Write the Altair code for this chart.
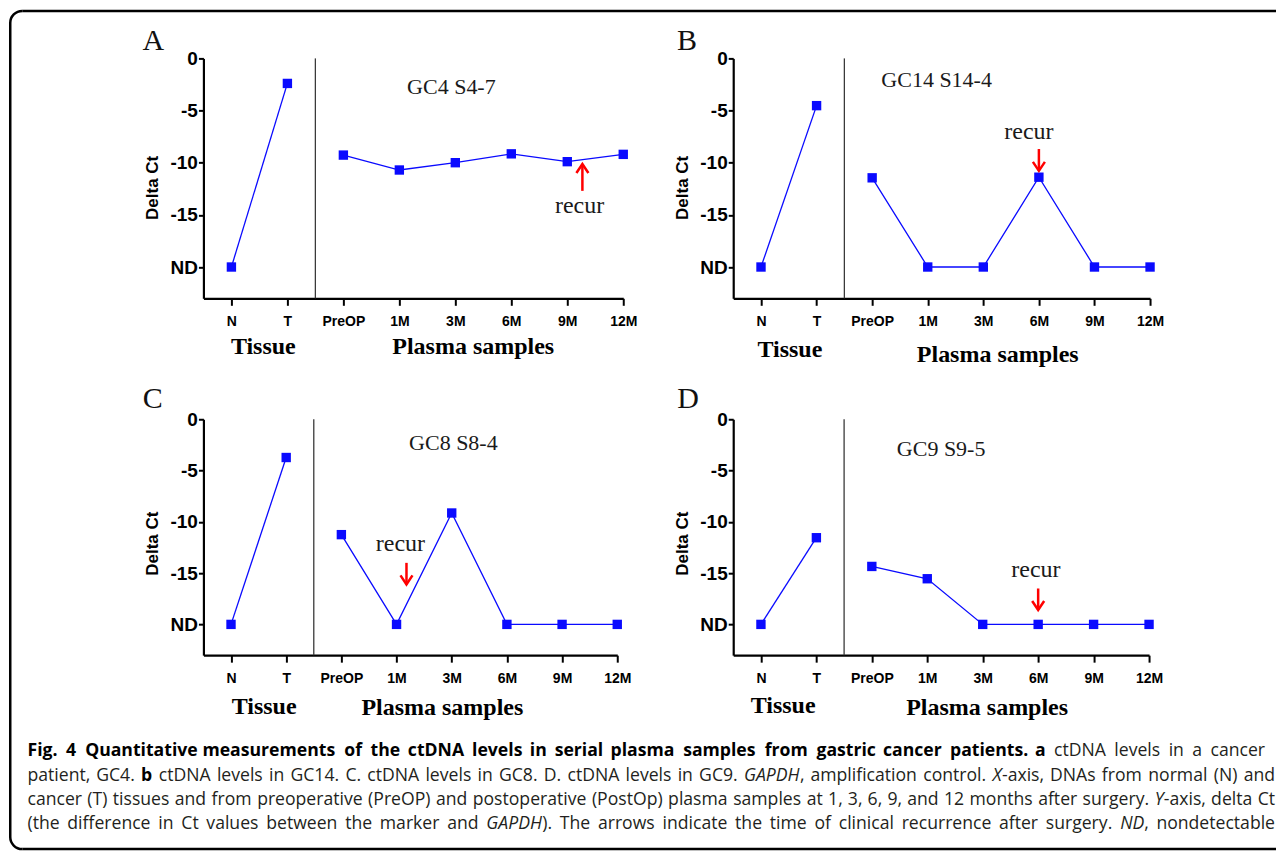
import json
import math
import altair as alt
import pandas as pd

# ---------------- data ----------------
CATEGORIES = ["N", "T", "PreOP", "1M", "3M", "6M", "9M", "12M"]
SAMPLE_GROUP = ["Tissue", "Tissue", "Plasma", "Plasma", "Plasma", "Plasma", "Plasma", "Plasma"]
ND_VALUE = -20  # "ND" (nondetectable) drawn at -20

DELTA_CT_A = [-20, -2.4, -9.27, -10.7, -10.0, -9.15, -9.9, -9.2]
DELTA_CT_B = [-20, -4.53, -11.45, -20, -20, -11.39, -20, -20]
DELTA_CT_C = [-20, -3.73, -11.25, -20, -9.14, -20, -20, -20]
DELTA_CT_D = [-20, -11.55, -14.35, -15.55, -20, -20, -20, -20]
ALL_VALUES = [DELTA_CT_A, DELTA_CT_B, DELTA_CT_C, DELTA_CT_D]

PANEL_LETTERS = ["A", "B", "C", "D"]
SAMPLE_IDS = ["GC4 S4-7", "GC14 S14-4", "GC8 S8-4", "GC9 S9-5"]
Y_TICKS = [0, -5, -10, -15, -20]

# recurrence arrows (x in category-index units, y in delta Ct units)
RECUR_X = [6.27, 5.0, 3.18, 5.0]
RECUR_TAIL = [-12.7, -8.69, -14.0, -16.5]
RECUR_TIP = [-10.13, -10.78, -16.1, -18.6]

CAPTION = [
    [("Fig. 4 Quantitative measurements of the ctDNA levels in serial plasma samples from gastric cancer patients. a", "bold"),
     (" ctDNA levels in a cancer", "normal")],
    [("patient, GC4. ", "normal"), ("b", "bold"),
     (" ctDNA levels in GC14. C. ctDNA levels in GC8. D. ctDNA levels in GC9. ", "normal"),
     ("GAPDH", "italic"), (", amplification control. ", "normal"), ("X", "italic"),
     ("-axis, DNAs from normal (N) and", "normal")],
    [("cancer (T) tissues and from preoperative (PreOP) and postoperative (PostOp) plasma samples at 1, 3, 6, 9, and 12 months after surgery. ", "normal"),
     ("Y", "italic"), ("-axis, delta Ct", "normal")],
    [("(the difference in Ct values between the marker and ", "normal"), ("GAPDH", "italic"),
     ("). The arrows indicate the time of clinical recurrence after surgery. ", "normal"),
     ("ND", "italic"), (", nondetectable", "normal")],
]

# ---------------- layout / style ----------------
BLUE = "#0a0aff"
RED = "#ff0000"
SERIF = "Liberation Serif"
SANS = "Liberation Sans"
CAP_FONT = "Open Sans"
PANEL_W = [420, 417, 414, 416]
ROW_H = [240, 236]
TITLE_Y = [129, 124]
HSPACE = 110
VSPACE = 121
CHEVRON = "M-0.6,-0.9L0,0L0.6,-0.9"

# per-panel annotation positions (x in category units, y in delta Ct units)
LAYOUT = [
    dict(letter=(-1.59, 0.77), sample=(3.93, -3.40), recur=(6.22, -14.8), tissue=(0.57, -28.3), plasma=(4.32, -28.3)),
    dict(letter=(-1.51, 0.77), sample=(3.16, -2.76), recur=(4.82, -7.73), tissue=(0.52, -28.6), plasma=(4.26, -29.1)),
    dict(letter=(-1.60, 1.10), sample=(4.03, -3.02), recur=(3.07, -12.87), tissue=(0.60, -28.75), plasma=(3.83, -28.8)),
    dict(letter=(-1.51, 1.10), sample=(3.25, -3.54), recur=(4.96, -15.4), tissue=(0.40, -28.6), plasma=(4.08, -28.8)),
]

LABEL_EXPR = json.dumps(CATEGORIES) + "[datum.value]"


def make_panel(i, row):
    vals = ALL_VALUES[i]
    lay = LAYOUT[i]
    d = pd.DataFrame({"pos": list(range(len(CATEGORIES))), "value": vals, "group": SAMPLE_GROUP})
    X = alt.X("pos:Q", scale=alt.Scale(domain=[-0.5, 7], nice=False, zero=False),
              axis=alt.Axis(values=list(range(len(CATEGORIES))), labelExpr=LABEL_EXPR, title=None))
    Y = alt.Y("value:Q", scale=alt.Scale(domain=[-23, 0], nice=False, zero=False),
              axis=alt.Axis(values=Y_TICKS,
                            labelExpr=f"datum.value == {ND_VALUE} ? 'ND' : toString(datum.value)",
                            title="Delta Ct", titleY=TITLE_Y[row]))

    def txt(pos, value, label, **kw):
        return alt.Chart(pd.DataFrame({"pos": [pos], "value": [value], "label": [label]})).mark_text(
            **kw).encode(x=X, y=Y, text="label:N")

    sep = alt.Chart(pd.DataFrame({"pos": [1.5], "value": [0.0], "value2": [-23.0]})).mark_rule(
        color="#3a3a3a", strokeWidth=1.3).encode(x=X, y=Y, y2="value2:Q")
    base = alt.Chart(d)
    line = base.mark_line(color=BLUE, strokeWidth=1.3).encode(x=X, y=Y, detail="group:N")
    pts = base.mark_square(size=88, color=BLUE, opacity=1).encode(x=X, y=Y)
    shaft = alt.Chart(pd.DataFrame({"pos": [RECUR_X[i]], "value": [RECUR_TAIL[i]], "value2": [RECUR_TIP[i]]})).mark_rule(
        color=RED, strokeWidth=2.5).encode(x=X, y=Y, y2="value2:Q")
    up = RECUR_TIP[i] > RECUR_TAIL[i]
    head = alt.Chart(pd.DataFrame({"pos": [RECUR_X[i]], "value": [RECUR_TIP[i]]})).mark_point(
        shape=CHEVRON, filled=False, size=400, strokeWidth=2.5, color=RED, opacity=1,
        angle=180 if up else 0).encode(x=X, y=Y)

    letter = txt(*lay["letter"], PANEL_LETTERS[i], font=SERIF, fontSize=30, align="left",
                 baseline="alphabetic", color="#111")
    sample = txt(*lay["sample"], SAMPLE_IDS[i], font=SERIF, fontSize=22, align="center",
                 baseline="alphabetic", color="#1a1a1a")
    recur = txt(*lay["recur"], "recur", font=SERIF, fontSize=24, align="center",
                baseline="alphabetic", color="#1a1a1a")
    tissue = txt(*lay["tissue"], "Tissue", font=SERIF, fontSize=24, fontWeight="bold",
                 align="center", baseline="alphabetic", color="#000")
    plasma = txt(*lay["plasma"], "Plasma samples", font=SERIF, fontSize=24, fontWeight="bold",
                 align="center", baseline="alphabetic", color="#000")
    return alt.layer(sep, line, pts, shaft, head, letter, sample, recur, tissue, plasma).properties(
        width=PANEL_W[i], height=ROW_H[row])


# ---------------- caption (word-justified layout) ----------------
REG = {' ': .260, ',': .245, '.': .266, '(': .296, ')': .296, '-': .322, ':': .266}
REG.update({c: .572 for c in "0123456789"})
REG.update(dict(zip("ABCDEFGHIJKLMNOPQRSTUVWXYZ",
                    [.633, .648, .631, .729, .556, .516, .728, .738, .279, .267, .634, .549, .903, .754,
                     .779, .602, .779, .618, .539, .547, .734, .593, .912, .585, .564, .569])))
REG.update(dict(zip("abcdefghijklmnopqrstuvwxyz",
                    [.556, .613, .476, .613, .561, .339, .548, .614, .253, .253, .525, .253, .930, .614,
                     .604, .613, .613, .408, .477, .353, .614, .501, .778, .524, .502, .477])))


def piece_w(text, style):
    w = sum(REG.get(c, .55) for c in text)
    return w * (1.075 if style == "bold" else (0.925 if style == "italic" else 1.0))


def words_of(segs):
    words = [[]]
    for text, style in segs:
        parts = text.split(" ")
        for j, p in enumerate(parts):
            if j > 0:
                words.append([])
            if p:
                words[-1].append((p, style))
    return [w for w in words if w]


ORIGIN_X = 203.0
ORIGIN_Y = 58 + ROW_H[0] + VSPACE + ROW_H[1] + VSPACE
LINE_START = 27.0
LINE_ENDS = [1265.0, 1275.0, 1275.0, 1275.0]
LINE_BASE = [756.0, 780.5, 804.5, 828.5]

line_words = [words_of(s) for s in CAPTION]
nat = []
for ws in line_words:
    tot = sum(piece_w(t, s) for w in ws for t, s in w) + 0.26 * (len(ws) - 1)
    nat.append(tot)
CAP_FS = round(0.985 * min((e - LINE_START) / n for e, n in zip(LINE_ENDS, nat)), 2)

rows = []
for li, ws in enumerate(line_words):
    wsum = sum(piece_w(t, s) for w in ws for t, s in w) * CAP_FS
    gap = (LINE_ENDS[li] - LINE_START - wsum) / (len(ws) - 1)
    x = LINE_START
    for wi, w in enumerate(ws):
        for pi, (t, s) in enumerate(w):
            last = wi == len(ws) - 1 and pi == len(w) - 1
            rows.append({"x": (LINE_ENDS[li] if last else x) - ORIGIN_X, "y": LINE_BASE[li] - ORIGIN_Y,
                         "text": t, "style": s, "anchor": "end" if last else "start"})
            x += piece_w(t, s) * CAP_FS
        x += gap
cap_df = pd.DataFrame(rows)


def cap_layer(style, anchor, **kw):
    sub = cap_df[(cap_df["style"] == style) & (cap_df["anchor"] == anchor)]
    return alt.Chart(sub).mark_text(
        font=CAP_FONT, fontSize=CAP_FS, align="left" if anchor == "start" else "right",
        baseline="alphabetic", **kw).encode(
        x=alt.X("x:Q", scale=None, axis=None), y=alt.Y("y:Q", scale=None, axis=None), text="text:N")


# frame (page coordinates converted to caption-view coordinates); drawn as filled shapes
FL, FT, FB, FR, RAD, FW = 9.75, 10.5, 849.0, 1276.0, 12.0, 2.5
H = FW / 2


def cx(v):
    return v - ORIGIN_X


def cy(v):
    return v - ORIGIN_Y


one = alt.Chart(pd.DataFrame({"k": [0]}))
frame = [
    one.mark_rect(color="black").encode(x=alt.value(cx(FL + RAD)), x2=alt.value(cx(FR)),
                                        y=alt.value(cy(FT - H)), y2=alt.value(cy(FT + H))),
    one.mark_rect(color="black").encode(x=alt.value(cx(FL - H)), x2=alt.value(cx(FL + H)),
                                        y=alt.value(cy(FT + RAD)), y2=alt.value(cy(FB - RAD))),
    one.mark_rect(color="black").encode(x=alt.value(cx(FL + RAD)), x2=alt.value(cx(FR)),
                                        y=alt.value(cy(FB - H)), y2=alt.value(cy(FB + H))),
    one.mark_arc(color="black", theta=1.5 * math.pi, theta2=2 * math.pi, radius=RAD + H, radius2=RAD - H).encode(
        x=alt.value(cx(FL + RAD)), y=alt.value(cy(FT + RAD))),
    one.mark_arc(color="black", theta=math.pi, theta2=1.5 * math.pi, radius=RAD + H, radius2=RAD - H).encode(
        x=alt.value(cx(FL + RAD)), y=alt.value(cy(FB - RAD))),
]

caption = alt.layer(
    *frame,
    cap_layer("normal", "start", color="#231f20"),
    cap_layer("normal", "end", color="#231f20"),
    cap_layer("bold", "start", color="#000000", fontWeight="bold"),
    cap_layer("italic", "start", color="#231f20", fontStyle="italic"),
).properties(width=PANEL_W[2], height=50)

PAD_L = FL - H - 8
PAD_T = FT - H - 8

chart = alt.concat(
    make_panel(0, 0), make_panel(1, 0), make_panel(2, 1), make_panel(3, 1), caption,
    columns=2, spacing={"row": VSPACE, "column": HSPACE}, bounds="flush", align="each",
).properties(
    padding={"left": PAD_L, "top": PAD_T, "right": 0, "bottom": 0},
    background="white",
).configure_view(stroke=None).configure_axis(
    domainColor="black", domainWidth=2.2, tickColor="black", tickWidth=2, grid=False,
    labelColor="black", labelFont=SANS, labelFontWeight="bold", labelFlush=False, labelOverlap=False,
    titleColor="black", titleFont=SANS, titleFontWeight="bold",
).configure_axisX(labelFontSize=14, tickSize=7, labelPadding=9).configure_axisY(
    labelFontSize=19, tickSize=5, labelPadding=1, titleFontSize=17, titlePadding=8)

chart.save("out.html", embed_options={"renderer": "svg", "actions": False})
